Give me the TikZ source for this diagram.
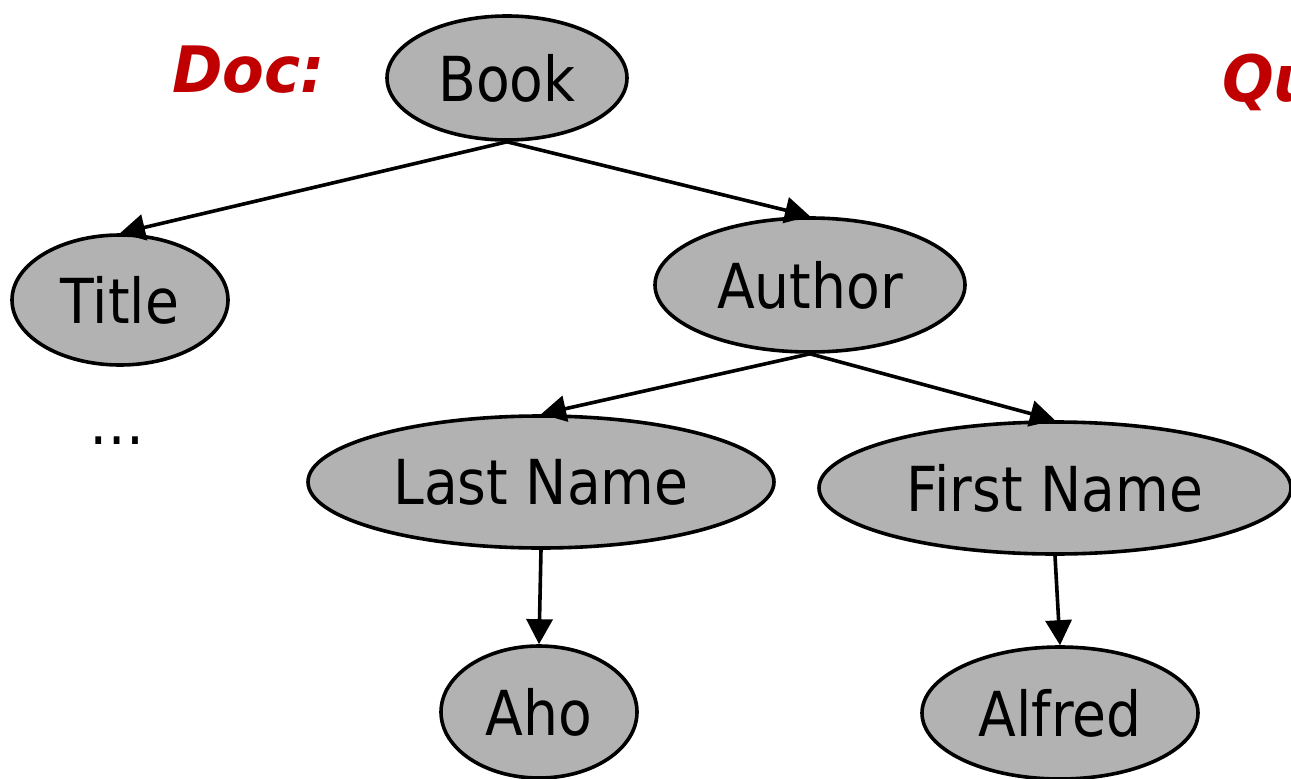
\documentclass[tikz,border=0pt]{standalone}
\usepackage{fontspec}
\setmainfont{DejaVu Sans}[FakeStretch=0.89]
\newfontfamily\headfont{DejaVu Sans}[FakeStretch=0.95]
\usetikzlibrary{shapes.geometric,arrows.meta}
\definecolor{nodegray}{RGB}{178,178,178}
\definecolor{labelred}{RGB}{192,0,0}
\tikzset{
  treenode/.style={ellipse, draw=black, line width=3.6pt, fill=nodegray, inner sep=0pt,
    font=\fontsize{62}{70}\selectfont},
  edge/.style={line width=3.6pt, -{Triangle[length=25pt,width=26pt]}},
  heading/.style={text=labelred, inner sep=0pt, anchor=base west,
    font=\headfont\fontsize{64}{70}\selectfont\bfseries\itshape},
}
\begin{document}
\begin{tikzpicture}[x=1pt,y=-1pt]
\useasboundingbox (0,0) rectangle (1291,779);
% document tree
\node[treenode, minimum width=240pt, minimum height=124pt] (book)   at (507,78)  {Book};
\node[treenode, minimum width=216pt, minimum height=130pt] (title)  at (120,300) {Title};
\node[treenode, minimum width=310pt, minimum height=134pt] (author) at (810,285) {Author};
\node[treenode, minimum width=466pt, minimum height=132pt] (last)   at (541,482) {Last Name};
\node[treenode, minimum width=472pt, minimum height=132pt] (first)  at (1055,488) {First Name};
\node[treenode, minimum width=196pt, minimum height=132pt] (aho)    at (539,712) {Aho};
\node[treenode, minimum width=276pt, minimum height=132pt] (alfred) at (1060,713) {Alfred};
\node[inner sep=0pt, anchor=base, font=\fontsize{62}{70}\selectfont] (more) at (117,444) {…};
% headings
\node[heading] (doc) at (172,92) {Doc:};
\node[heading] (query) at (1222,101) {Qu};
% edges
\draw[edge] (book.south) -- (title.north);
\draw[edge] (book.south) -- (author.north);
\draw[edge] (author.south) -- (last.north);
\draw[edge] (author.south) -- (first.north);
\draw[edge] (last.south) -- (aho.north);
\draw[edge] (first.south) -- (alfred.north);
\end{tikzpicture}
\end{document}
